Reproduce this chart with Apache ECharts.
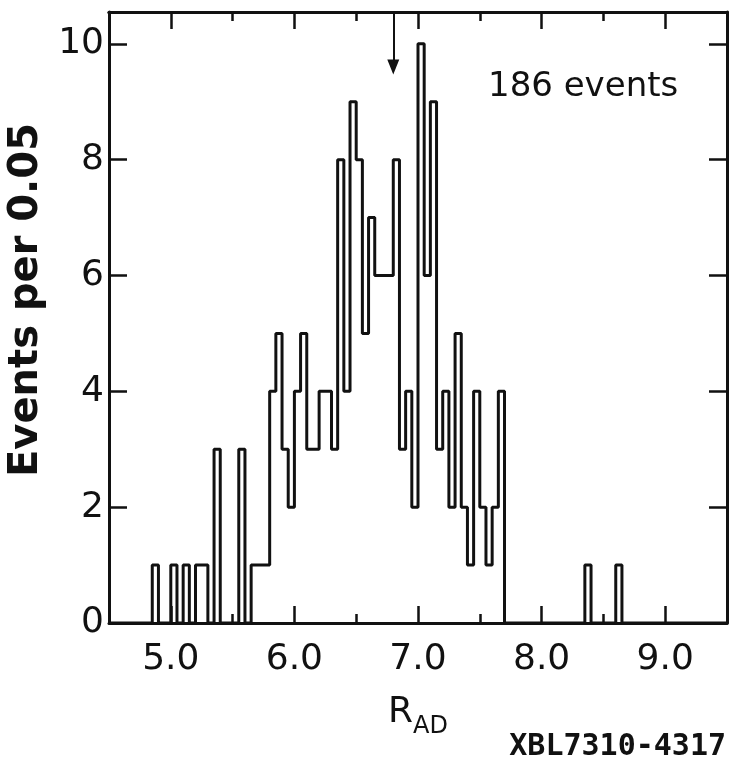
<!DOCTYPE html>
<html>
<head>
<meta charset="utf-8">
<title>R_AD distribution</title>
<script src="https://cdn.jsdelivr.net/npm/echarts@6/dist/echarts.min.js"></script>
<style>
    html, body { margin: 0; padding: 0; background: #fff; }
    #chart { width: 732px; height: 765px; }
</style>
</head>
<body>
<div id="chart"></div>
<script>
// histogram: events per 0.05 bin, first bin starts at 4.85
var binStart = 4.85;
var binWidth = 0.05;
var counts   = [
    1, 0, 0, 1, 0, 1, 0, 1, 1, 0,   // 4.85 - 5.30
    3, 0, 0, 0, 3, 0, 1, 1, 1, 4,   // 5.35 - 5.80
    5, 3, 2, 4, 5, 3, 3, 4, 4, 3,   // 5.85 - 6.30
    8, 4, 9, 8, 5, 7, 6, 6, 6, 8,   // 6.35 - 6.80
    3, 4, 2, 10, 6, 9, 3, 4, 2, 5,  // 6.85 - 7.30
    2, 1, 4, 2, 1, 2, 4, 0, 0, 0,   // 7.35 - 7.80
    0, 0, 0, 0, 0, 0, 0, 0, 0, 0,   // 7.85 - 8.30
    1, 0, 0, 0, 0, 1                // 8.35 - 8.60
];

var xRange      = [4.5, 9.5];
var yRange      = [0, 10.55];
var xMajorTicks = [5, 6, 7, 8, 9];
var xMinorTicks = [5.5, 6.5, 7.5, 8.5];
var yTicks      = [0, 2, 4, 6, 8, 10];
var arrowX      = 6.8;
var arrowFrom   = 10.55;
var arrowTo     = 9.6;
var yTitle      = 'Events per 0.05';
var eventsLabel = '186 events';
var plateLabel  = 'XBL7310-4317';

var ink  = '#111';
var font = 'DejaVu Sans';

// step outline points at the bin edges
var outline = [[xRange[0], 0]];
for (var i = 0; i < counts.length; i++)
{
    outline.push([Math.round((binStart + i * binWidth) * 100) / 100, counts[i]]);
}
outline.push([Math.round((binStart + counts.length * binWidth) * 100) / 100, 0]);
outline.push([xRange[1], 0]);

function xAxisDef(position, ticks, len, withLabels)
{
    var axis = {
        type: 'value',
        position: position,
        min: xRange[0],
        max: xRange[1],
        splitLine: { show: false },
        axisLine: { show: withLabels || position == 'top', onZero: false, lineStyle: { color: ink, width: 3 } },
        axisTick: { show: true, inside: true, length: len, customValues: ticks, lineStyle: { color: ink, width: 2.5 } },
        axisLabel: { show: false }
    };
    if(withLabels)
    {
        axis.axisLabel = {
            show: true,
            customValues: ticks,
            margin: 19,
            color: ink,
            fontFamily: font,
            fontSize: 36,
            formatter: function(v) { return v.toFixed(1); }
        };
        axis.name = '{r|R}{s|AD}';
        axis.nameLocation = 'middle';
        axis.nameGap = 72;
        axis.nameTextStyle = {
            rich: {
                r: { fontFamily: font, fontSize: 36, color: ink, verticalAlign: 'bottom' },
                s: { fontFamily: font, fontSize: 24, color: ink, verticalAlign: 'bottom', padding: [0, 0, -8, 0] }
            }
        };
    }
    return axis;
}

var chart = echarts.init(document.getElementById('chart'), null, { renderer: 'canvas' });

var option = {
    animation: false,
    backgroundColor: '#fff',
    grid: { left: 109, right: 5, top: 12, bottom: 142 },
    xAxis: [
        xAxisDef('bottom', xMajorTicks, 17, true),
        xAxisDef('bottom', xMinorTicks, 9, false),
        xAxisDef('top', xMajorTicks, 17, false),
        xAxisDef('top', xMinorTicks, 9, false)
    ],
    yAxis: [
        {
            type: 'value',
            position: 'left',
            min: yRange[0],
            max: yRange[1],
            splitLine: { show: false },
            axisLine: { show: true, lineStyle: { color: ink, width: 3 } },
            axisTick: { show: true, inside: true, length: 18, customValues: yTicks, lineStyle: { color: ink, width: 2.5 } },
            axisLabel: {
                customValues: yTicks,
                margin: 5,
                color: ink,
                fontFamily: font,
                fontSize: 36
            }
        },
        {
            type: 'value',
            position: 'right',
            min: yRange[0],
            max: yRange[1],
            splitLine: { show: false },
            axisLine: { show: true, lineStyle: { color: ink, width: 3 } },
            axisTick: { show: true, inside: true, length: 18, customValues: yTicks, lineStyle: { color: ink, width: 2.5 } },
            axisLabel: { show: false }
        }
    ],
    graphic: [
        {
            type: 'text',
            x: 27,
            y: 300,
            rotation: Math.PI / 2,
            style: { text: yTitle, fontFamily: font, fontWeight: 'bold', fontSize: 40, fill: ink, align: 'center', verticalAlign: 'middle' }
        },
        {
            type: 'text',
            left: 488,
            top: 70,
            style: { text: eventsLabel, fontFamily: font, fontSize: 34, fill: ink }
        },
        {
            type: 'text',
            right: 6,
            top: 732,
            style: { text: plateLabel, fontFamily: 'DejaVu Sans Mono', fontWeight: 'bold', fontSize: 30, fill: ink }
        }
    ],
    series: [
        {
            name: 'events',
            type: 'line',
            step: 'end',
            xAxisIndex: 0,
            yAxisIndex: 0,
            showSymbol: false,
            symbol: 'none',
            lineStyle: { color: ink, width: 3 },
            data: outline,
            markLine: {
                silent: true,
                symbol: ['none', 'triangle'],
                symbolSize: [12, 15],
                label: { show: false },
                lineStyle: { color: ink, width: 2, type: 'solid' },
                data: [[{ coord: [arrowX, arrowFrom] }, { coord: [arrowX, arrowTo] }]]
            }
        }
    ]
};

option && chart.setOption(option);
</script>
</body>
</html>
